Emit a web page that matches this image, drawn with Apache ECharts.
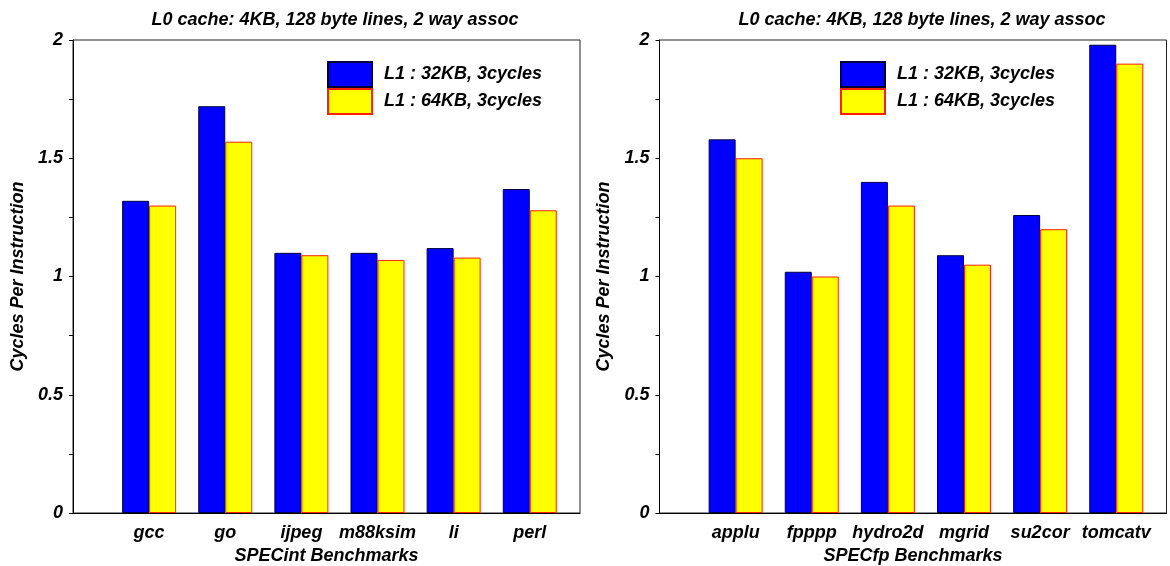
<!DOCTYPE html>
<html>
<head>
<meta charset="utf-8">
<script src="https://cdn.jsdelivr.net/npm/echarts@6/dist/echarts.min.js"></script>
<style>html,body{margin:0;padding:0;background:#fff}#c{width:1170px;height:566px}</style>
</head>
<body>
<div id="c"></div>
<script>
const titleText = 'L0 cache: 4KB, 128 byte lines, 2 way assoc';
const seriesNames = ['L1 : 32KB, 3cycles', 'L1 : 64KB, 3cycles'];
const intCategories = ['gcc', 'go', 'ijpeg', 'm88ksim', 'li', 'perl'];
const int32KB = [1.32, 1.72, 1.10, 1.10, 1.12, 1.37];
const int64KB = [1.30, 1.57, 1.09, 1.07, 1.08, 1.28];
const fpCategories = ['applu', 'fpppp', 'hydro2d', 'mgrid', 'su2cor', 'tomcatv'];
const fp32KB = [1.58, 1.02, 1.40, 1.09, 1.26, 1.98];
const fp64KB = [1.50, 1.00, 1.30, 1.05, 1.20, 1.90];
const yTickLabels = ['0', '0.5', '1', '1.5', '2'];
const xNames = ['SPECint Benchmarks', 'SPECfp Benchmarks'];
const yName = 'Cycles Per Instruction';

const FONT = '"Liberation Sans", Arial, sans-serif';
const txt = {fontFamily: FONT, fontWeight: 'bold', fontStyle: 'italic', color: '#000', fontSize: 18};
const blueStyle = {color: '#0000FF', borderColor: '#000040', borderWidth: 1};
const yellowStyle = {color: '#FFFF00', borderColor: '#FF2000', borderWidth: 1};

function xAxisFor(idx, cats) {
  return {
    type: 'value', gridIndex: idx, min: 0, max: 6.66, interval: 1,
    name: xNames[idx], nameLocation: 'middle', nameGap: 34,
    nameTextStyle: Object.assign({}, txt),
    axisLine: {show: true, lineStyle: {color: '#000', width: 1}},
    axisTick: {show: false},
    splitLine: {show: false},
    axisLabel: Object.assign({}, txt, {margin: 11, formatter: v => cats[v - 1] || ''})
  };
}
function yAxisFor(idx) {
  return {
    type: 'value', gridIndex: idx, min: 0, max: 2, interval: 0.25,
    name: yName, nameLocation: 'middle', nameGap: 46, nameRotate: 90,
    nameTextStyle: Object.assign({}, txt),
    axisLine: {show: true, lineStyle: {color: '#000', width: 1}},
    axisTick: {show: true, length: 4, lineStyle: {color: '#000'}},
    splitLine: {show: false},
    axisLabel: Object.assign({}, txt, {fontSize: 18, margin: 10, formatter: v => {
      const s = String(+(+v).toFixed(2));
      return yTickLabels.includes(s) ? s : '';
    }})
  };
}
function barSeries(idx, name, vals, style) {
  return {
    type: 'bar', name: name, xAxisIndex: idx, yAxisIndex: idx,
    data: vals.map((v, i) => [i + 1, v]),
    barWidth: 27, barGap: '0%',
    itemStyle: style
  };
}
function legendFor(left) {
  return {
    left: left, top: 61, orient: 'vertical', padding: 0, itemGap: 0,
    itemWidth: 44, itemHeight: 25, icon: 'rect',
    data: seriesNames,
    textStyle: Object.assign({}, txt, {padding: [0, 0, 0, 7]})
  };
}

const chart = echarts.init(document.getElementById('c'), null, {renderer: 'canvas'});
chart.setOption({
  animation: false,
  backgroundColor: '#fff',
  title: [
    {text: titleText, left: 330, top: 6, textAlign: 'center', textStyle: Object.assign({}, txt)},
    {text: titleText, left: 917, top: 6, textAlign: 'center', textStyle: Object.assign({}, txt)}
  ],
  legend: [legendFor(327), legendFor(840)],
  grid: [
    {left: 73, right: 590, top: 40, bottom: 53, show: true, borderColor: '#222', borderWidth: 1, backgroundColor: 'transparent', containLabel: false, outerBoundsMode: 'none'},
    {left: 659.5, right: 3.5, top: 40, bottom: 53, show: true, borderColor: '#222', borderWidth: 1, backgroundColor: 'transparent', containLabel: false, outerBoundsMode: 'none'}
  ],
  xAxis: [xAxisFor(0, intCategories), xAxisFor(1, fpCategories)],
  yAxis: [yAxisFor(0), yAxisFor(1)],
  series: [
    barSeries(0, seriesNames[0], int32KB, blueStyle),
    barSeries(0, seriesNames[1], int64KB, yellowStyle),
    barSeries(1, seriesNames[0], fp32KB, blueStyle),
    barSeries(1, seriesNames[1], fp64KB, yellowStyle)
  ]
});
</script>
</body>
</html>
